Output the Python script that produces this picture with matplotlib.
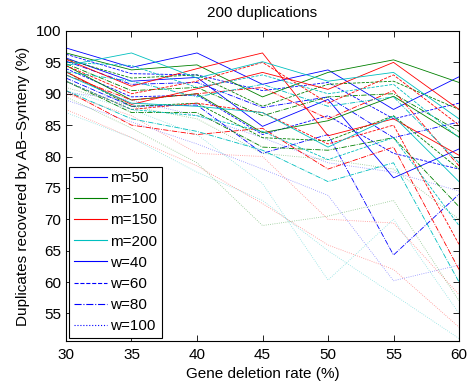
import matplotlib
matplotlib.use("Agg")
import matplotlib.pyplot as plt
from matplotlib.lines import Line2D

plt.rcParams['font.family'] = ['Liberation Sans', 'DejaVu Sans']

deletion_rate = [30, 35, 40, 45, 50, 55, 60]
m_labels = ['m=50', 'm=100', 'm=150', 'm=200']
w_labels = ['w=40', 'w=60', 'w=80', 'w=100']

# m=50 (blue)
b_s1 = [97.3, 94.2, 96.5, 91.5, 93.8, 87.5, 92.7]
b_s2 = [95.7, 92.0, 92.6, 84.8, 89.1, 76.6, 81.2]
b_d1 = [96.3, 93.2, 93.0, 90.5, 91.8, 86.0, 88.5]
b_d2 = [94.0, 89.5, 89.8, 83.5, 86.5, 80.5, 78.0]
b_dd1 = [95.2, 91.5, 91.8, 87.8, 89.5, 83.0, 85.5]
b_dd2 = [92.5, 88.0, 88.2, 80.5, 83.5, 64.3, 74.0]
b_o1 = [90.2, 89.0, 86.5, 83.0, 79.0, 77.5, 74.5]
b_o2 = [89.0, 85.5, 82.0, 78.0, 73.8, 60.2, 62.7]
# m=100 (green)
g_s1 = [96.5, 93.8, 94.6, 89.5, 93.4, 95.4, 91.8]
g_s2 = [94.5, 89.0, 90.0, 83.8, 85.7, 89.6, 83.1]
g_d1 = [95.5, 92.5, 93.0, 88.0, 91.5, 92.0, 87.5]
g_d2 = [93.5, 88.0, 88.5, 83.0, 82.5, 86.5, 78.0]
g_dd1 = [94.8, 90.5, 91.0, 86.5, 89.5, 90.0, 84.0]
g_dd2 = [92.0, 87.0, 87.0, 81.5, 81.0, 83.0, 72.0]
g_o1 = [91.0, 88.0, 86.0, 80.5, 79.5, 78.0, 70.0]
g_o2 = [89.5, 84.5, 79.0, 69.0, 70.5, 73.0, 57.0]
# m=150 (red)
r_s1 = [93.5, 88.3, 90.8, 93.4, 90.7, 95.0, 87.5]
r_s2 = [95.5, 91.2, 94.0, 96.5, 83.3, 86.0, 80.2]
r_d1 = [94.5, 90.0, 92.0, 95.0, 88.5, 93.0, 85.0]
r_d2 = [92.0, 87.5, 88.5, 87.0, 82.0, 85.0, 66.0]
r_dd1 = [93.0, 89.0, 90.0, 91.0, 86.0, 90.5, 78.5]
r_dd2 = [90.5, 85.0, 83.5, 84.5, 78.0, 81.5, 62.0]
r_o1 = [90.0, 86.5, 80.5, 80.0, 70.0, 69.4, 58.0]
r_o2 = [87.5, 83.0, 78.5, 72.5, 65.9, 62.0, 52.8]
# m=200 (cyan)
c_s1 = [94.5, 96.5, 92.5, 95.1, 92.0, 93.4, 86.0]
c_s2 = [93.0, 88.5, 88.0, 87.0, 81.5, 86.4, 76.0]
c_d1 = [95.0, 94.5, 91.0, 93.0, 90.0, 91.5, 83.0]
c_d2 = [92.0, 87.5, 86.5, 84.0, 79.5, 83.0, 69.0]
c_dd1 = [93.5, 92.0, 89.5, 91.5, 88.0, 89.5, 79.0]
c_dd2 = [90.5, 86.0, 84.0, 81.0, 76.0, 79.0, 60.0]
c_o1 = [90.5, 87.5, 83.5, 75.7, 60.3, 70.0, 55.0]
c_o2 = [87.0, 83.0, 77.5, 73.0, 65.0, 58.0, 51.0]

colors = [(0, 0, 1), (0, 0.5, 0), (1, 0, 0), (0, 0.75, 0.75)]
styles = ['-', '--', '-.', ':']

groups = [
    [(b_s1, b_s2), (b_d1, b_d2), (b_dd1, b_dd2), (b_o1, b_o2)],
    [(g_s1, g_s2), (g_d1, g_d2), (g_dd1, g_dd2), (g_o1, g_o2)],
    [(r_s1, r_s2), (r_d1, r_d2), (r_dd1, r_dd2), (r_o1, r_o2)],
    [(c_s1, c_s2), (c_d1, c_d2), (c_dd1, c_dd2), (c_o1, c_o2)],
]

fig = plt.figure(figsize=(4.67, 3.86), dpi=100)
ax = fig.add_axes([0.1413, 0.1166, 0.8416, 0.8031])

for ci, grp in enumerate(groups):
    for si, pair in enumerate(grp):
        for series in pair:
            ax.plot(deletion_rate, series, color=colors[ci], linestyle=styles[si],
                    linewidth=0.6, alpha=0.45 if si == 3 else 1.0)

ax.set_xlim(30, 60)
ax.set_ylim(50.6, 100)
ax.set_xticks(deletion_rate)
ax.set_yticks([55, 60, 65, 70, 75, 80, 85, 90, 95, 100])
ax.tick_params(direction='in', top=True, right=True, labelsize=11, length=4, width=0.6)
ax.tick_params(axis='x', pad=5)
for sp in ax.spines.values():
    sp.set_linewidth(0.8)
ax.set_xlabel('Gene deletion rate (%)', fontsize=11, labelpad=4)
ax.set_ylabel('Duplicates recovered by AB\u2212Synteny (%)', fontsize=11, labelpad=4)
ax.set_title('200 duplications', fontsize=11, pad=10)

handles = [Line2D([], [], color=c, linestyle='-', linewidth=0.8) for c in colors]
handles += [Line2D([], [], color=colors[0], linestyle=s, linewidth=0.8) for s in styles]
leg = ax.legend(handles, m_labels + w_labels, loc='lower left', fontsize=11,
                frameon=True, fancybox=False, edgecolor='black', framealpha=1,
                handlelength=2.2, handletextpad=0.2, labelspacing=0.47,
                borderpad=0.3, borderaxespad=0.2)
leg.get_frame().set_linewidth(0.8)

fig.savefig('out.png', dpi=100)
